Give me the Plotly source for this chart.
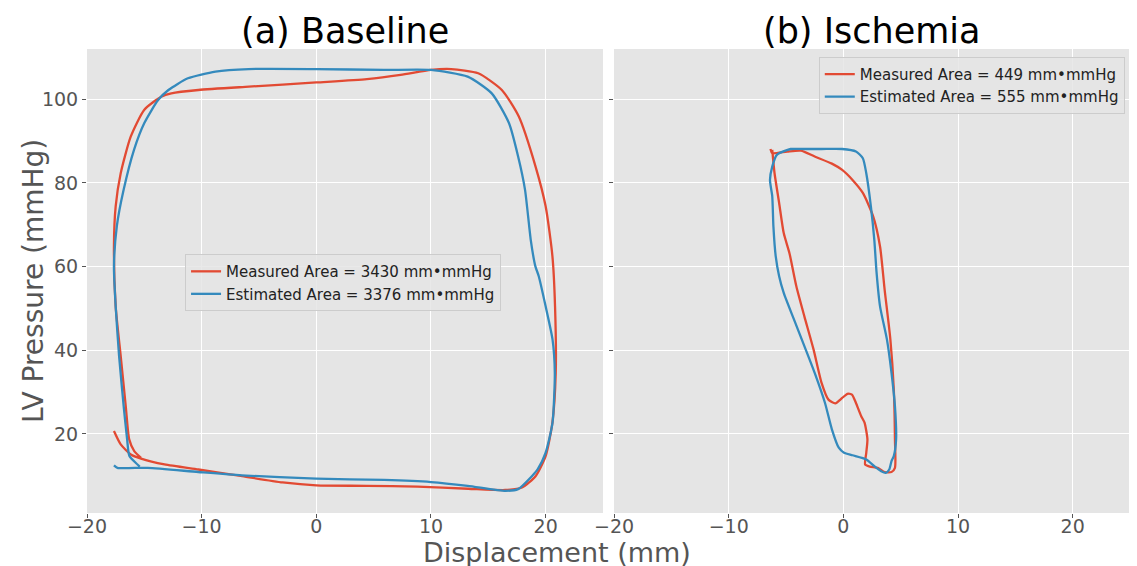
import plotly.graph_objects as go
from plotly.subplots import make_subplots

# ---- data ----
base_meas_x = [-17.65, -17.06, -16.18, -15.29, -13.24, -10.29, -6.47, -2.94, 0, 4.41, 8.82, 13.24, 16.47, 17.94, 19.12,
               20.0, 20.59, 20.88, 20.82, 20.59, 20.0, 19.12, 17.65, 16.18, 14.12, 11.76, 10.0, 7.35, 4.41, 0, -5.88,
               -10.29, -12.65, -13.53, -15.0, -16.18, -17.06, -17.5, -17.65, -17.5, -17.06, -16.62, -16.32, -15.88, -15.29]
base_meas_y = [20.7, 17.5, 15.1, 14.1, 12.7, 11.5, 9.9, 8.4, 7.7, 7.6, 7.4, 6.9, 6.6, 7.2, 9.9,
               14.7, 22.7, 34.6, 50.5, 62.5, 74.4, 83.9, 95.9, 102.2, 106.2, 107.2, 107.0, 105.8, 104.8, 104.0, 103.0,
               102.2, 101.4, 100.6, 97.5, 91.1, 82.3, 74.4, 64.8, 50.5, 38.6, 26.6, 18.7, 15.9, 14.3]

base_est_x = [-17.65, -17.35, -14.7, -10.3, -6.5, 0, 5.9, 10, 13.2, 16.5, 17.6, 18.8, 19.3, 20.0, 20.6, 20.8, 20.6,
              20.0, 19.4, 19.1, 18.7, 18.2, 17.6, 16.8, 15.3, 13.2, 10.0, 5.9, 0, -5.9, -8.8, -11.2, -12.9, -13.8,
              -15.0, -15.9, -16.8, -17.4, -17.65, -17.5, -17.2, -16.8, -16.5, -16.3, -15.6, -15.4]
base_est_y = [12.5, 11.9, 11.9, 10.9, 10.1, 9.3, 9.0, 8.5, 7.6, 6.4, 6.8, 9.9, 11.5, 15.5, 22.7, 34.6, 42.6,
              50.5, 57.7, 60.1, 66.4, 78.4, 86.3, 94.3, 101.4, 105.4, 107.0, 107.0, 107.2, 107.2, 106.6, 105.0, 102.2, 99.8,
              94.3, 87.9, 78.4, 69.6, 60.1, 50.5, 38.6, 26.6, 18.7, 14.7, 12.7, 12.2]

isch_meas_x = [-6.36, -6.2, -4.9, -3.7, -2.5, -1.0, -0.1, 0.8, 1.7, 2.6, 3.2, 3.6, 4.1, 4.4, 4.5, 4.5, 4.2, 3.6,
               3.0, 2.3, 1.9, 2.0, 2.1, 1.85, 1.55, 1.1, 0.75, 0.36, -0.1, -0.7, -1.3, -1.9, -2.6, -3.4, -4.1, -4.7,
               -5.2, -5.6, -6.0, -6.2]
isch_meas_y = [88.1, 87.1, 87.5, 87.7, 86.3, 84.6, 83.1, 80.7, 77.6, 72.0, 64.8, 54.5, 42.6, 30.6, 18.7, 11.9, 10.9, 10.9,
               11.9, 12.2, 12.7, 15.5, 18.7, 22.7, 24.3, 27.4, 29.4, 29.6, 28.6, 27.3, 28.2, 32.2, 40.2, 48.1, 55.3, 63.2,
               68.0, 75.2, 82.3, 87.9]

isch_est_x = [-5.8, -4.6, -3.4, -1.9, -0.1, 1.1, 1.7, 2.0, 2.4, 2.7, 2.9, 3.2, 3.8, 4.2, 4.5, 4.6, 4.4, 4.2, 4.0,
              3.7, 3.3, 2.7, 2.0, 0.8, 0.06, -0.4, -1.0, -1.6, -2.5, -3.4, -4.3, -5.2, -5.6, -5.9, -6.1, -6.2, -6.4,
              -6.2, -5.8]
isch_est_y = [86.7, 88.1, 88.1, 88.1, 88.1, 87.5, 85.9, 82.3, 74.4, 66.4, 58.5, 50.5, 42.6, 34.6, 26.6, 18.7, 14.7, 13.5, 11.5,
              10.7, 11.1, 12.3, 13.9, 14.9, 15.5, 16.7, 21.1, 27.4, 34.6, 41.0, 47.3, 53.7, 57.7, 62.5, 69.6, 76.8, 80.7,
              83.9, 86.7]

base_labels = ["Measured Area = 3430 mm\u2022mmHg", "Estimated Area = 3376 mm\u2022mmHg"]
isch_labels = ["Measured Area = 449 mm\u2022mmHg", "Estimated Area = 555 mm\u2022mmHg"]
panel_titles = ["(a) Baseline", "(b) Ischemia"]
x_ticks = [-20, -10, 0, 10, 20]
y_ticks = [20, 40, 60, 80, 100]

RED = "#E24A33"
BLUE = "#348ABD"
FONT = "DejaVu Sans"

fig = make_subplots(rows=1, cols=2, shared_yaxes=True, horizontal_spacing=0.0106)

line_kw = dict(width=2.3, shape="spline", smoothing=0.6)
fig.add_trace(go.Scatter(x=base_meas_x, y=base_meas_y, mode="lines", name=base_labels[0],
                         line=dict(color=RED, **line_kw), legend="legend"), row=1, col=1)
fig.add_trace(go.Scatter(x=base_est_x, y=base_est_y, mode="lines", name=base_labels[1],
                         line=dict(color=BLUE, **line_kw), legend="legend"), row=1, col=1)
fig.add_trace(go.Scatter(x=isch_meas_x, y=isch_meas_y, mode="lines", name=isch_labels[0],
                         line=dict(color=RED, **line_kw), legend="legend2"), row=1, col=2)
fig.add_trace(go.Scatter(x=isch_est_x, y=isch_est_y, mode="lines", name=isch_labels[1],
                         line=dict(color=BLUE, **line_kw), legend="legend2"), row=1, col=2)

axis_common = dict(showgrid=True, gridcolor="white", gridwidth=1, zeroline=False,
                   ticks="outside", ticklen=4, tickcolor="#555555", showline=False,
                   tickfont=dict(family=FONT, size=19, color="#555555"))
for c in (1, 2):
    fig.update_xaxes(range=[-20, 25], tickvals=x_ticks, ticklabelstandoff=-8, row=1, col=c, **axis_common)
    fig.update_yaxes(range=[1.1, 112], tickvals=y_ticks, row=1, col=c, **axis_common)
fig.update_yaxes(showticklabels=False, row=1, col=2)

leg_common = dict(font=dict(family=FONT, size=15, color="#222222"), bgcolor="rgba(229,229,229,0.85)",
                  bordercolor="#CCCCCC", borderwidth=1, tracegroupgap=0, itemwidth=30)

# page body has an 8px margin: compensate so the plot lands where the reference has it
fig.update_layout(
    width=1137, height=566,
    margin=dict(l=79, r=15, t=41, b=61),
    paper_bgcolor="white", plot_bgcolor="#E5E5E5",
    font=dict(family=FONT),
    legend=dict(x=0.094, y=0.558, xanchor="left", yanchor="top", **leg_common),
    legend2=dict(x=0.995, y=0.983, xanchor="right", yanchor="top", **leg_common),
    showlegend=True,
)

# panel titles
fig.add_annotation(text=panel_titles[0], x=0.2474, y=1, xref="paper", yref="paper", xanchor="center",
                   yanchor="middle", yshift=18, showarrow=False, font=dict(family=FONT, size=35, color="black"))
fig.add_annotation(text=panel_titles[1], x=0.7526, y=1, xref="paper", yref="paper", xanchor="center",
                   yanchor="middle", yshift=18, showarrow=False, font=dict(family=FONT, size=35, color="black"))
# axis titles
fig.add_annotation(text="Displacement (mm)", x=0.4506, y=0, xref="paper", yref="paper", xanchor="center",
                   yanchor="middle", yshift=-39, showarrow=False, font=dict(family=FONT, size=27, color="#555555"))
fig.add_annotation(text="LV Pressure (mmHg)", x=0, y=0.5, xref="paper", yref="paper", xanchor="center",
                   yanchor="middle", xshift=-54, textangle=-90, showarrow=False,
                   font=dict(family=FONT, size=28, color="#555555"))

fig.write_html("out.html")
